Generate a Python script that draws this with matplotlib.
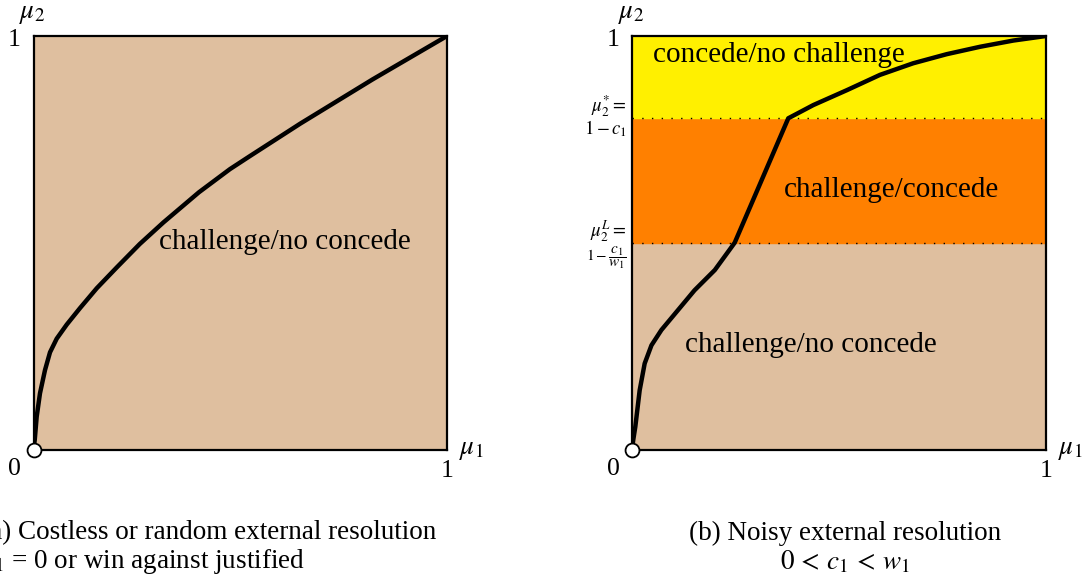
import matplotlib
matplotlib.use("Agg")
import matplotlib.pyplot as plt

plt.rcParams["font.family"] = ["Liberation Serif", "DejaVu Serif"]
plt.rcParams["mathtext.fontset"] = "stix"

# Boundary curve, panel (a): costless / random external resolution
curve_a_x = [0.0, 0.003, 0.0077, 0.0157, 0.0278, 0.0399, 0.0561, 0.0803, 0.1125,
             0.153, 0.201, 0.257, 0.314, 0.400, 0.475, 0.524, 0.645, 0.820, 1.0]
curve_a_y = [0.0, 0.023, 0.0793, 0.136, 0.192, 0.235, 0.268, 0.302, 0.342,
             0.390, 0.440, 0.497, 0.549, 0.622, 0.678, 0.710, 0.788, 0.895, 1.0]

# Boundary curve, panel (b): noisy external resolution
curve_b_x = [0.0, 0.003, 0.008, 0.0185, 0.0306, 0.047, 0.071, 0.111, 0.151, 0.200,
             0.248, 0.3775, 0.438, 0.519, 0.599, 0.679, 0.760, 0.841, 0.921, 1.0]
curve_b_y = [0.0, 0.023, 0.055, 0.143, 0.208, 0.252, 0.289, 0.337, 0.385, 0.434,
             0.500, 0.801, 0.833, 0.869, 0.906, 0.934, 0.956, 0.974, 0.989, 1.0]

# Thresholds in panel (b)
mu2_low = 0.50    # mu_2^L = 1 - c1/w1
mu2_star = 0.801  # mu_2^* = 1 - c1

TAN = "#DFBF9F"
ORANGE = "#FF8000"
YELLOW = "#FFF000"

W, H = 1086, 584
fig = plt.figure(figsize=(W / 100, H / 100), dpi=100)


def px(x, y):
    return x / W, 1 - y / H


ax_a = fig.add_axes([33.5 / W, 1 - 449.5 / H, 413.5 / W, 413.5 / H])
ax_b = fig.add_axes([632 / W, 1 - 449.5 / H, 414 / W, 413.5 / H])

for ax in (ax_a, ax_b):
    ax.set_xlim(0, 1)
    ax.set_ylim(0, 1)
    ax.set_xticks([])
    ax.set_yticks([])
    for s in ax.spines.values():
        s.set_linewidth(1.6)
        s.set_zorder(5)

region_fs = 21

# Panel (a)
ax_a.axhspan(0, 1, color=TAN, zorder=0)
ax_a.plot(curve_a_x, curve_a_y, color="black", lw=3.2,
          solid_capstyle="round", solid_joinstyle="round", zorder=3)
ax_a.plot([0], [0], "o", ms=10, mfc="white", mec="black", mew=1.3, clip_on=False, zorder=6)
ax_a.text(0.607, 0.501, "challenge/no concede", fontsize=region_fs, ha="center", va="center", zorder=4)

# Panel (b)
ax_b.axhspan(0, mu2_low, color=TAN, zorder=0)
ax_b.axhspan(mu2_low, mu2_star, color=ORANGE, zorder=0)
ax_b.axhspan(mu2_star, 1, color=YELLOW, zorder=0)
for yv in (mu2_low, mu2_star):
    ax_b.axhline(yv, color="black", lw=1.0, ls=(0, (1, 6)), zorder=2)
ax_b.plot(curve_b_x, curve_b_y, color="black", lw=3.2,
          solid_capstyle="round", solid_joinstyle="round", zorder=3)
ax_b.plot([0], [0], "o", ms=10, mfc="white", mec="black", mew=1.3, clip_on=False, zorder=6)
ax_b.text(0.354, 0.953, "concede/no challenge", fontsize=region_fs, ha="center", va="center", zorder=4)
ax_b.text(0.626, 0.627, "challenge/concede", fontsize=region_fs, ha="center", va="center", zorder=4)
ax_b.text(0.431, 0.252, "challenge/no concede", fontsize=region_fs, ha="center", va="center", zorder=4)

# Axis annotations
tick_fs = 18.5
for (x0, x1) in ((33.5, 447), (632, 1046)):
    fig.text(*px(x0 - 19, 40), "1", fontsize=tick_fs, ha="center", va="center")
    fig.text(*px(x0 - 1, 13), r"$\mu_2$", fontsize=tick_fs + 1, ha="center", va="center")
    fig.text(*px(x0 - 19, 469), "0", fontsize=tick_fs, ha="center", va="center")
    fig.text(*px(x1, 471), "1", fontsize=tick_fs, ha="center", va="center")
    fig.text(*px(x1 + 24, 449), r"$\mu_1$", fontsize=tick_fs + 1, ha="center", va="center")

side_fs = 13.5
fig.text(*px(627, 106), r"$\mu_2^{*} =$", fontsize=side_fs, ha="right", va="center")
fig.text(*px(627, 129), r"$1 - c_1$", fontsize=side_fs, ha="right", va="center")
fig.text(*px(627, 231), r"$\mu_2^{L} =$", fontsize=side_fs, ha="right", va="center")
fig.text(*px(627, 258), r"$1 - \dfrac{c_1}{w_1}$", fontsize=side_fs - 2.5, ha="right", va="center")

# Captions
cap_fs = 19.5
fig.text(*px(436, 533), "(a) Costless or random external resolution", fontsize=cap_fs, ha="right", va="center")
fig.text(*px(305, 562), r"$c_1$ = 0 or win against justified", fontsize=cap_fs, ha="right", va="center")
fig.text(*px(845, 533), "(b) Noisy external resolution", fontsize=cap_fs, ha="center", va="center")
fig.text(*px(845, 562), r"$0 \,<\, c_1 \,<\, w_1$", fontsize=cap_fs, ha="center", va="center")

fig.savefig("out.png", dpi=100)
